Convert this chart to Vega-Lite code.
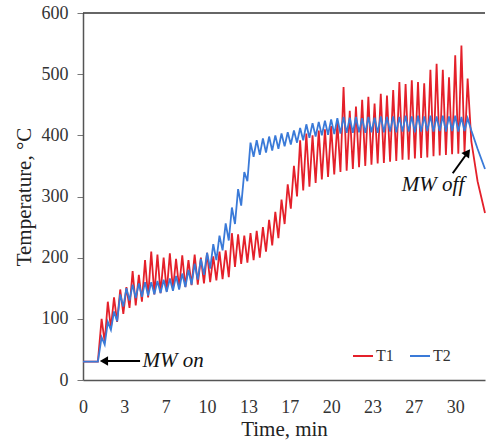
{
  "$schema": "https://vega.github.io/schema/vega-lite/v6.json",
  "width": 402,
  "height": 367,
  "autosize": {"type": "none"},
  "padding": {"left": 83, "top": 13, "right": 1, "bottom": 66},
  "background": "white",
  "config": {
    "view": {"stroke": null},
    "font": "Liberation Serif",
    "axis": {"labelFont": "Liberation Serif", "titleFont": "Liberation Serif", "labelColor": "#333333", "titleColor": "#222222", "domainColor": "#555555", "tickColor": "#777777", "grid": false, "titleFontWeight": "normal"},
    "legend": {"labelFont": "Liberation Serif"}
  },
  "datasets": {
    "temps": [
      {"t": 0, "T1": 30, "T2": 30},
      {"t": 1.2, "T1": 30, "T2": 30},
      {"t": 1.5, "T1": 100, "T2": 70},
      {"t": 1.75, "T1": 62, "T2": 58},
      {"t": 2.0, "T1": 128, "T2": 95},
      {"t": 2.25, "T1": 85, "T2": 82},
      {"t": 2.5, "T1": 135, "T2": 112},
      {"t": 2.75, "T1": 95, "T2": 96},
      {"t": 3.0, "T1": 148, "T2": 140},
      {"t": 3.25, "T1": 108, "T2": 120},
      {"t": 3.5, "T1": 152, "T2": 150},
      {"t": 3.75, "T1": 118, "T2": 130},
      {"t": 4.0, "T1": 178, "T2": 156},
      {"t": 4.25, "T1": 122, "T2": 134},
      {"t": 4.5, "T1": 172, "T2": 158},
      {"t": 4.75, "T1": 128, "T2": 136},
      {"t": 5.0, "T1": 196, "T2": 160},
      {"t": 5.25, "T1": 135, "T2": 138},
      {"t": 5.5, "T1": 210, "T2": 160},
      {"t": 5.75, "T1": 140, "T2": 140},
      {"t": 6.0, "T1": 205, "T2": 162},
      {"t": 6.25, "T1": 142, "T2": 142},
      {"t": 6.5, "T1": 200, "T2": 164},
      {"t": 6.75, "T1": 145, "T2": 144},
      {"t": 7.0, "T1": 207, "T2": 166},
      {"t": 7.25, "T1": 148, "T2": 146},
      {"t": 7.5, "T1": 198, "T2": 170},
      {"t": 7.75, "T1": 150, "T2": 148},
      {"t": 8.0, "T1": 204, "T2": 174},
      {"t": 8.25, "T1": 152, "T2": 152},
      {"t": 8.5, "T1": 196, "T2": 180},
      {"t": 8.75, "T1": 155, "T2": 156},
      {"t": 9.0, "T1": 205, "T2": 190},
      {"t": 9.25, "T1": 156, "T2": 164},
      {"t": 9.5, "T1": 200, "T2": 198},
      {"t": 9.75, "T1": 158, "T2": 172},
      {"t": 10.0, "T1": 208, "T2": 208},
      {"t": 10.25, "T1": 160, "T2": 182},
      {"t": 10.5, "T1": 202, "T2": 222},
      {"t": 10.75, "T1": 163, "T2": 196},
      {"t": 11.0, "T1": 210, "T2": 236},
      {"t": 11.25, "T1": 165, "T2": 212},
      {"t": 11.5, "T1": 212, "T2": 256},
      {"t": 11.75, "T1": 168, "T2": 228},
      {"t": 12.0, "T1": 240, "T2": 282},
      {"t": 12.25, "T1": 185, "T2": 255},
      {"t": 12.5, "T1": 238, "T2": 312},
      {"t": 12.75, "T1": 190, "T2": 285},
      {"t": 13.0, "T1": 236, "T2": 340},
      {"t": 13.25, "T1": 192, "T2": 325},
      {"t": 13.5, "T1": 240, "T2": 388},
      {"t": 13.75, "T1": 196, "T2": 365},
      {"t": 14.0, "T1": 244, "T2": 392},
      {"t": 14.25, "T1": 200, "T2": 368},
      {"t": 14.5, "T1": 250, "T2": 395},
      {"t": 14.75, "T1": 210, "T2": 372},
      {"t": 15.0, "T1": 262, "T2": 398},
      {"t": 15.25, "T1": 220, "T2": 375},
      {"t": 15.5, "T1": 275, "T2": 400},
      {"t": 15.75, "T1": 232, "T2": 378},
      {"t": 16.0, "T1": 295, "T2": 403},
      {"t": 16.25, "T1": 255, "T2": 382},
      {"t": 16.5, "T1": 320, "T2": 405},
      {"t": 16.75, "T1": 280, "T2": 385},
      {"t": 17.0, "T1": 350, "T2": 408},
      {"t": 17.25, "T1": 300, "T2": 388},
      {"t": 17.5, "T1": 392, "T2": 412},
      {"t": 17.75, "T1": 310, "T2": 392},
      {"t": 18.0, "T1": 403, "T2": 418},
      {"t": 18.25, "T1": 316, "T2": 396},
      {"t": 18.5, "T1": 400, "T2": 420},
      {"t": 18.75, "T1": 322, "T2": 398},
      {"t": 19.0, "T1": 408, "T2": 422},
      {"t": 19.25, "T1": 328, "T2": 400},
      {"t": 19.5, "T1": 410, "T2": 424},
      {"t": 19.75, "T1": 332, "T2": 401},
      {"t": 20.0, "T1": 415, "T2": 426},
      {"t": 20.25, "T1": 336, "T2": 402},
      {"t": 20.5, "T1": 420, "T2": 428},
      {"t": 20.75, "T1": 340, "T2": 403},
      {"t": 21.0, "T1": 479, "T2": 430},
      {"t": 21.25, "T1": 342, "T2": 404},
      {"t": 21.5, "T1": 440, "T2": 429},
      {"t": 21.75, "T1": 345, "T2": 404},
      {"t": 22.0, "T1": 447, "T2": 430},
      {"t": 22.25, "T1": 348, "T2": 405},
      {"t": 22.5, "T1": 458, "T2": 428},
      {"t": 22.75, "T1": 350, "T2": 404},
      {"t": 23.0, "T1": 463, "T2": 430},
      {"t": 23.25, "T1": 352, "T2": 405},
      {"t": 23.5, "T1": 452, "T2": 429},
      {"t": 23.75, "T1": 354, "T2": 404},
      {"t": 24.0, "T1": 468, "T2": 431},
      {"t": 24.25, "T1": 355, "T2": 405},
      {"t": 24.5, "T1": 465, "T2": 430},
      {"t": 24.75, "T1": 357, "T2": 406},
      {"t": 25.0, "T1": 474, "T2": 431},
      {"t": 25.25, "T1": 358, "T2": 405},
      {"t": 25.5, "T1": 487, "T2": 430},
      {"t": 25.75, "T1": 360, "T2": 406},
      {"t": 26.0, "T1": 484, "T2": 432},
      {"t": 26.25, "T1": 360, "T2": 406},
      {"t": 26.5, "T1": 490, "T2": 431},
      {"t": 26.75, "T1": 362, "T2": 405},
      {"t": 27.0, "T1": 487, "T2": 432},
      {"t": 27.25, "T1": 363, "T2": 406},
      {"t": 27.5, "T1": 485, "T2": 431},
      {"t": 27.75, "T1": 364, "T2": 407},
      {"t": 28.0, "T1": 507, "T2": 432},
      {"t": 28.25, "T1": 366, "T2": 406},
      {"t": 28.5, "T1": 517, "T2": 431},
      {"t": 28.75, "T1": 367, "T2": 407},
      {"t": 29.0, "T1": 507, "T2": 432},
      {"t": 29.25, "T1": 368, "T2": 406},
      {"t": 29.5, "T1": 495, "T2": 431},
      {"t": 29.75, "T1": 369, "T2": 407},
      {"t": 30.0, "T1": 531, "T2": 432},
      {"t": 30.25, "T1": 370, "T2": 406},
      {"t": 30.5, "T1": 547, "T2": 430},
      {"t": 30.75, "T1": 372, "T2": 407},
      {"t": 31.0, "T1": 493, "T2": 428},
      {"t": 31.3, "T1": 390, "T2": 408},
      {"t": 31.8, "T1": 325, "T2": 378},
      {"t": 32.4, "T1": 273, "T2": 345}
    ],
    "ann": [
      {"label": "MW on", "tx": 4.8, "ty": 31, "ax": 4.6, "ay": 31, "hx": 1.69, "hy": 31},
      {"label": "MW off", "tx": 25.7, "ty": 319, "ax": 29.8, "ay": 338, "hx": 31.0, "hy": 372}
    ],
    "frame": [{"T": 600}]
  },
  "layer": [
    {
      "data": {"name": "frame"},
      "mark": {"type": "rule", "color": "#333333", "strokeWidth": 1.5},
      "encoding": {"y": {"field": "T", "type": "quantitative"}}
    },
    {
      "data": {"name": "temps"},
      "transform": [{"fold": ["T1", "T2"], "as": ["series", "value"]}],
      "mark": {"type": "line", "strokeWidth": 1.8, "interpolate": "linear"},
      "encoding": {
        "x": {
          "field": "t", "type": "quantitative",
          "scale": {"domain": [0, 32.4], "nice": false, "zero": false},
          "axis": {
            "title": "Time, min",
            "values": [0, 3.3333, 6.6667, 10, 13.3333, 16.6667, 20, 23.3333, 26.6667, 30],
            "labelExpr": "format(round(datum.value), 'd')",
            "ticks": false,
            "labelPadding": 18,
            "labelFontSize": 18,
            "titleFontSize": 21,
            "titlePadding": 2,
            "labelFlush": false,
            "domainWidth": 1.5
          }
        },
        "y": {
          "field": "value", "type": "quantitative",
          "scale": {"domain": [0, 600], "nice": false},
          "axis": {
            "title": "Temperature, °C",
            "values": [0, 100, 200, 300, 400, 500, 600],
            "tickSize": 6,
            "labelPadding": 9,
            "labelFontSize": 18,
            "titleFontSize": 21,
            "titlePadding": 7,
            "domainWidth": 1.5
          }
        },
        "color": {
          "field": "series", "type": "nominal",
          "scale": {"domain": ["T1", "T2"], "range": ["#E4202A", "#3A7AD8"]},
          "legend": {
            "title": null,
            "orient": "none",
            "legendX": 269,
            "legendY": 332,
            "direction": "horizontal",
            "symbolType": "stroke",
            "symbolSize": 400,
            "symbolStrokeWidth": 2,
            "labelFontSize": 16,
            "labelColor": "#333333",
            "labelOffset": 2,
            "columnPadding": 12,
            "padding": 0
          }
        }
      }
    },
    {
      "data": {"name": "ann"},
      "mark": {"type": "rule", "color": "black", "strokeWidth": 2},
      "encoding": {
        "x": {"field": "ax", "type": "quantitative"},
        "y": {"field": "ay", "type": "quantitative"},
        "x2": {"field": "hx"},
        "y2": {"field": "hy"}
      }
    },
    {
      "data": {"name": "ann"},
      "transform": [{"filter": "datum.label == 'MW on'"}],
      "mark": {"type": "point", "shape": "triangle-left", "filled": true, "color": "black", "opacity": 1, "size": 90},
      "encoding": {
        "x": {"field": "hx", "type": "quantitative"},
        "y": {"field": "hy", "type": "quantitative"}
      }
    },
    {
      "data": {"name": "ann"},
      "transform": [{"filter": "datum.label == 'MW off'"}],
      "mark": {"type": "point", "shape": "triangle-up", "filled": true, "color": "black", "opacity": 1, "size": 90, "angle": 36},
      "encoding": {
        "x": {"field": "hx", "type": "quantitative"},
        "y": {"field": "hy", "type": "quantitative"}
      }
    },
    {
      "data": {"name": "ann"},
      "mark": {"type": "text", "align": "left", "baseline": "middle", "font": "Liberation Serif", "fontStyle": "italic", "fontSize": 21, "color": "#111111"},
      "encoding": {
        "x": {"field": "tx", "type": "quantitative"},
        "y": {"field": "ty", "type": "quantitative"},
        "text": {"field": "label"}
      }
    }
  ]
}
